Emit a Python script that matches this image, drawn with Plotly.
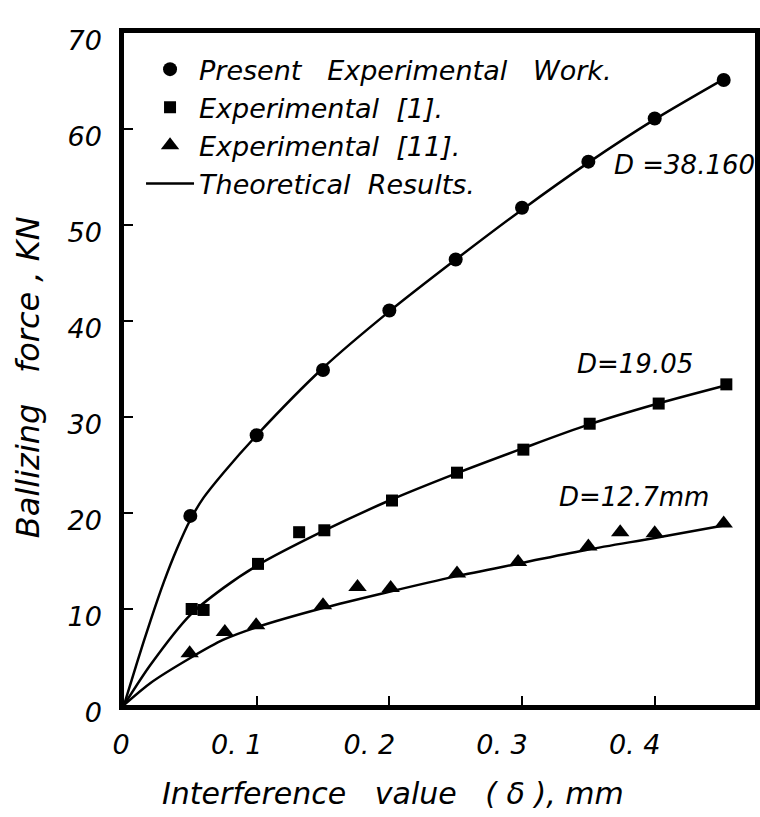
import plotly.graph_objects as go

# ---- data ----
# Present experimental work (D = 38.160)
x_present = [0.05, 0.10, 0.15, 0.20, 0.25, 0.30, 0.35, 0.40, 0.452]
y_present = [19.7, 28.1, 34.9, 41.1, 46.4, 51.8, 56.6, 61.1, 65.1]

# Experimental [1] (D = 19.05)
x_exp1 = [0.051, 0.060, 0.101, 0.132, 0.151, 0.202, 0.251, 0.301, 0.351, 0.403, 0.454]
y_exp1 = [10.0, 9.9, 14.7, 18.0, 18.2, 21.3, 24.2, 26.6, 29.3, 31.4, 33.4]

# Experimental [11] (D = 12.7 mm)
x_exp11 = [0.0495, 0.076, 0.0996, 0.150, 0.176, 0.201, 0.251, 0.297, 0.350, 0.374, 0.400, 0.452]
y_exp11 = [5.4, 7.6, 8.3, 10.4, 12.3, 12.2, 13.7, 14.9, 16.5, 18.0, 17.9, 18.9]

# Theoretical curves
x_th38 = [0, 0.01, 0.02, 0.03, 0.04, 0.05, 0.06, 0.075, 0.10, 0.15, 0.20, 0.25, 0.30, 0.35, 0.40, 0.452]
y_th38 = [0, 4.5, 8.8, 12.8, 16.3, 19.3, 21.6, 24.2, 28.1, 35.1, 41.0, 46.4, 51.6, 56.5, 61.0, 65.2]

x_th19 = [0, 0.02, 0.05, 0.075, 0.10, 0.15, 0.20, 0.25, 0.30, 0.35, 0.40, 0.454]
y_th19 = [0, 4.2, 9.4, 12.2, 14.5, 18.1, 21.3, 24.1, 26.7, 29.2, 31.3, 33.3]

x_th12 = [0, 0.02, 0.05, 0.075, 0.10, 0.15, 0.20, 0.25, 0.30, 0.35, 0.40, 0.452]
y_th12 = [0, 2.3, 4.9, 6.8, 8.1, 10.1, 11.8, 13.4, 14.8, 16.2, 17.4, 18.7]

x_ticks = [0, 0.1, 0.2, 0.3, 0.4]
x_tick_text = ["\u00a0\u00a0\u00a0\u00a00", "0. 1", "0. 2", "0. 3", "0. 4"]
y_ticks = [0, 10, 20, 30, 40, 50, 60, 70]
y_tick_text = ["0", "10", "20", "30", "40", "50", "60", "70"]

FONT = "DejaVu Sans"
ink = "black"

fig = go.Figure()

line_style = dict(color=ink, width=2.5, shape="spline", smoothing=0.8)
fig.add_trace(go.Scatter(x=x_th38, y=y_th38, mode="lines", line=line_style,
                         name="Theoretical  Results.", legendrank=4, showlegend=True))
fig.add_trace(go.Scatter(x=x_th19, y=y_th19, mode="lines", line=line_style,
                         showlegend=False))
fig.add_trace(go.Scatter(x=x_th12, y=y_th12, mode="lines", line=line_style,
                         showlegend=False))

fig.add_trace(go.Scatter(x=x_present, y=y_present, mode="markers",
                         marker=dict(symbol="circle", size=14, color=ink),
                         name="Present   Experimental   Work.", legendrank=1))
fig.add_trace(go.Scatter(x=x_exp1, y=y_exp1, mode="markers",
                         marker=dict(symbol="square", size=12, color=ink),
                         name="Experimental  [1].", legendrank=2))
fig.add_trace(go.Scatter(x=x_exp11, y=y_exp11, mode="markers",
                         marker=dict(symbol="triangle-up", size=16, color=ink),
                         name="Experimental  [11].", legendrank=3))

tick_font = dict(family=FONT, size=27, color=ink, style="italic")

fig.update_xaxes(
    range=[0, 0.4756], tickvals=x_ticks, ticktext=x_tick_text,
    showline=True, linecolor=ink, linewidth=4.5, mirror=True,
    ticks="inside", ticklen=9, tickwidth=2, tickcolor=ink,
    showgrid=False, zeroline=False, tickfont=tick_font,
    ticklabelstandoff=12, ticklabelshift=-20, automargin=False,
)
fig.update_yaxes(
    range=[0, 70], tickvals=y_ticks, ticktext=y_tick_text,
    showline=True, linecolor=ink, linewidth=4.5, mirror=True,
    ticks="inside", ticklen=9, tickwidth=2, tickcolor=ink,
    showgrid=False, zeroline=False, tickfont=tick_font,
    ticklabelstandoff=12, ticklabelshift=8, automargin=False,
)

label_font = dict(family=FONT, size=26, color=ink, style="italic")
fig.add_annotation(x=0.368, y=56.25, xref="x", yref="y", text="D =38.160",
                   showarrow=False, xanchor="left", yanchor="middle", font=label_font)
fig.add_annotation(x=0.340, y=35.5, xref="x", yref="y", text="D=19.05",
                   showarrow=False, xanchor="left", yanchor="middle", font=label_font)
fig.add_annotation(x=0.3266, y=21.7, xref="x", yref="y", text="D=12.7mm",
                   showarrow=False, xanchor="left", yanchor="middle", font=label_font)

fig.add_annotation(x=-0.152, y=0.488, xref="paper", yref="paper",
                   text="Ballizing   force , KN", textangle=-90, showarrow=False,
                   xanchor="center", yanchor="middle",
                   font=dict(family=FONT, size=32, color=ink, style="italic"))
fig.add_annotation(x=0.427, y=-0.131, xref="paper", yref="paper",
                   text="Interference   value   ( δ ), mm", showarrow=False,
                   xanchor="center", yanchor="middle",
                   font=dict(family=FONT, size=30, color=ink, style="italic"))

fig.update_layout(
    width=760, height=817,
    margin=dict(l=124, r=5, t=33, b=112, autoexpand=False),
    paper_bgcolor="white", plot_bgcolor="white",
    legend=dict(x=0.027, y=0.982, xanchor="left", yanchor="top",
                bgcolor="rgba(0,0,0,0)", borderwidth=0,
                font=dict(family=FONT, size=27, color=ink, style="italic"),
                tracegroupgap=0, itemwidth=48),
)

fig.write_html(
    "out.html",
    config={"displayModeBar": False},
    post_script="document.body.style.margin='0';document.body.style.overflow='hidden';"
                "document.documentElement.style.overflow='hidden';",
)
